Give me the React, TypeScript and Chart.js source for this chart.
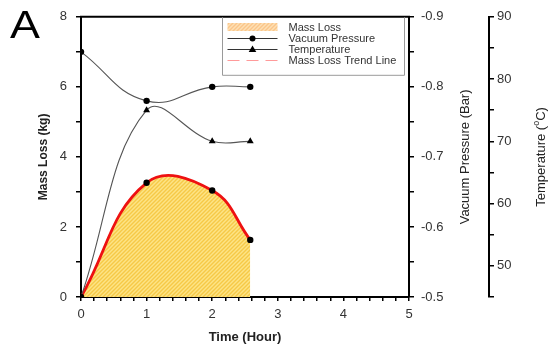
import React, { useEffect, useRef } from 'react';
import { Chart, registerables } from 'chart.js';

Chart.register(...registerables);

const FONT = "'Liberation Sans', Arial, sans-serif";

const times = [0, 1, 2, 2.58];
const massLoss = [0, 3.26, 3.04, 1.63];
const vacuumPressure = [-0.85, -0.78, -0.8, -0.8];
const temperature = [45, 75, 70, 70];

const seriesLabels = ['Mass Loss', 'Vacuum Pressure', 'Temperature', 'Mass Loss Trend Line'];
const xTitle = 'Time (Hour)';
const yTitle = 'Mass Loss (kg)';
const vacTitle = 'Vacuum Pressure (Bar)';
const tempTitle = ['Temperature (', 'o', 'C)'];
const panelLabel = 'A';

function makePattern(base: string, stripe: string): CanvasPattern | string {
  const c = document.createElement('canvas');
  c.width = 4;
  c.height = 4;
  const g = c.getContext('2d');
  if (!g) return base;
  g.fillStyle = base;
  g.fillRect(0, 0, 4, 4);
  g.strokeStyle = stripe;
  g.lineWidth = 1.4;
  g.beginPath();
  g.moveTo(-1, 5);
  g.lineTo(5, -1);
  g.moveTo(-1, 1);
  g.lineTo(1, -1);
  g.moveTo(3, 5);
  g.lineTo(5, 3);
  g.stroke();
  return g.createPattern(c, 'repeat') || base;
}

const pts = (ys: number[]) => times.map((x, i) => ({ x, y: ys[i] }));

export default function App() {
  const ref = useRef<HTMLCanvasElement | null>(null);

  useEffect(() => {
    if (!ref.current) return;
    const fillPattern = makePattern('#fde486', '#f6c947');
    const legendPattern = makePattern('#fde0b5', '#fbc589');

    const decor = {
      id: 'decor',
      afterDraw(chart: any) {
        const { ctx, chartArea } = chart;
        const { left, right, top, bottom } = chartArea;
        ctx.save();
        // top frame line
        ctx.strokeStyle = '#000';
        ctx.lineWidth = 2;
        ctx.beginPath();
        ctx.moveTo(left - 1, top);
        ctx.lineTo(right + 1, top);
        ctx.stroke();

        // legend
        const bx = left + 141.5;
        const by = top + 0.5;
        const bw = 182;
        const bh = 58;
        ctx.fillStyle = '#fff';
        ctx.fillRect(bx, by + 1, bw, bh - 1);
        ctx.strokeStyle = '#9a9a9a';
        ctx.lineWidth = 1;
        ctx.beginPath();
        ctx.moveTo(bx, by);
        ctx.lineTo(bx, by + bh);
        ctx.lineTo(bx + bw, by + bh);
        ctx.lineTo(bx + bw, by);
        ctx.stroke();
        const sx0 = bx + 5;
        const sx1 = bx + 55;
        const tx = bx + 66;
        const rows = [27, 38, 49, 60];
        ctx.font = `11px ${FONT}`;
        ctx.textBaseline = 'middle';
        ctx.textAlign = 'left';
        rows.forEach((ry, i) => {
          const label = chart.data.datasets[i].label;
          if (i === 0) {
            ctx.fillStyle = legendPattern;
            ctx.fillRect(sx0, ry - 4, sx1 - sx0, 8);
          } else if (i === 1 || i === 2) {
            ctx.strokeStyle = '#333';
            ctx.lineWidth = 1;
            ctx.beginPath();
            ctx.moveTo(sx0, ry + 0.5);
            ctx.lineTo(sx1, ry + 0.5);
            ctx.stroke();
            ctx.fillStyle = '#000';
            const cx = (sx0 + sx1) / 2;
            ctx.beginPath();
            if (i === 1) {
              ctx.arc(cx, ry + 0.5, 3, 0, Math.PI * 2);
            } else {
              ctx.moveTo(cx, ry - 3.5);
              ctx.lineTo(cx + 3.8, ry + 3);
              ctx.lineTo(cx - 3.8, ry + 3);
              ctx.closePath();
            }
            ctx.fill();
          } else {
            ctx.strokeStyle = '#ff9a9a';
            ctx.lineWidth = 1.2;
            ctx.setLineDash([12, 7]);
            ctx.beginPath();
            ctx.moveTo(sx0, ry + 0.5);
            ctx.lineTo(sx1, ry + 0.5);
            ctx.stroke();
            ctx.setLineDash([]);
          }
          ctx.fillStyle = '#333';
          ctx.fillText(label, tx, ry + 0.5);
        });

        // right axis titles (reading bottom-to-top)
        const cy = (top + bottom) / 2;
        ctx.fillStyle = '#222';
        ctx.textAlign = 'center';
        ctx.textBaseline = 'middle';
        ctx.save();
        ctx.translate(465, cy);
        ctx.rotate(-Math.PI / 2);
        ctx.font = `13px ${FONT}`;
        ctx.fillText(vacTitle, 0, 0);
        ctx.restore();

        ctx.save();
        ctx.translate(541, cy);
        ctx.rotate(-Math.PI / 2);
        ctx.font = `13px ${FONT}`;
        const w0 = ctx.measureText(tempTitle[0]).width;
        const w2 = ctx.measureText(tempTitle[2]).width;
        ctx.font = `9px ${FONT}`;
        const w1 = ctx.measureText(tempTitle[1]).width;
        const total = w0 + w1 + w2;
        let x = -total / 2;
        ctx.textAlign = 'left';
        ctx.font = `13px ${FONT}`;
        ctx.fillText(tempTitle[0], x, 0);
        x += w0;
        ctx.font = `9px ${FONT}`;
        ctx.fillText(tempTitle[1], x, -4);
        x += w1;
        ctx.font = `13px ${FONT}`;
        ctx.fillText(tempTitle[2], x, 0);
        ctx.restore();

        // panel label
        ctx.fillStyle = '#000';
        ctx.textAlign = 'left';
        ctx.textBaseline = 'alphabetic';
        ctx.font = `39px ${FONT}`;
        ctx.save();
        ctx.translate(10, 38);
        ctx.scale(1.15, 1);
        ctx.fillText(panelLabel, 0, 0);
        ctx.restore();
        ctx.restore();
      },
    };

    const tickFont = { family: FONT, size: 13 };
    const near = (v: number, step: number) => Math.abs(v / step - Math.round(v / step)) < 1e-6;

    const chart = new Chart(ref.current, {
      type: 'line',
      data: {
        datasets: [
          {
            label: seriesLabels[0],
            data: pts(massLoss),
            yAxisID: 'y',
            fill: 'origin',
            backgroundColor: fillPattern as any,
            borderWidth: 0,
            borderColor: 'rgba(0,0,0,0)',
            tension: 0.42,
            pointRadius: 3.2,
            pointBackgroundColor: '#000',
            pointBorderColor: '#000',
            pointBorderWidth: 0,
          },
          {
            label: seriesLabels[1],
            data: pts(vacuumPressure),
            yAxisID: 'yVac',
            fill: false,
            borderColor: '#555',
            borderWidth: 1.1,
            tension: 0.45,
            pointRadius: 3.2,
            pointStyle: 'circle',
            pointBackgroundColor: '#000',
            pointBorderColor: '#000',
            pointBorderWidth: 0,
          },
          {
            label: seriesLabels[2],
            data: pts(temperature),
            yAxisID: 'yTemp',
            fill: false,
            borderColor: '#555',
            borderWidth: 1.1,
            tension: 0.4,
            pointRadius: 4,
            pointStyle: 'triangle',
            pointBackgroundColor: '#000',
            pointBorderColor: '#000',
            pointBorderWidth: 0,
          },
          {
            label: seriesLabels[3],
            data: pts(massLoss),
            yAxisID: 'y',
            fill: false,
            borderColor: '#ee1111',
            borderWidth: 2.8,
            tension: 0.42,
            pointRadius: 0,
          },
        ],
      },
      options: {
        responsive: false,
        animation: false,
        events: [],
        layout: { padding: { top: 14, left: 0, right: 0, bottom: 0 } },
        plugins: {
          legend: { display: false },
          tooltip: { enabled: false },
          filler: { drawTime: 'beforeDatasetsDraw' } as any,
        },
        scales: {
          x: {
            type: 'linear',
            position: 'bottom',
            min: 0,
            max: 5,
            ticks: {
              stepSize: 0.2,
              maxTicksLimit: 100,
              autoSkip: false,
              maxRotation: 0,
              color: '#333',
              font: tickFont,
              padding: 6,
              callback: (v: any) => (near(Number(v), 1) ? String(Math.round(Number(v))) : ''),
            },
            grid: { drawOnChartArea: false, tickLength: 4, color: '#000', lineWidth: 1.5 },
            border: { color: '#000', width: 2 },
            title: {
              display: true,
              text: xTitle,
              color: '#222',
              font: { family: FONT, size: 13, weight: 'bold' },
              padding: { top: 0, bottom: 2 },
            },
            afterFit: (s: any) => {
              s.height = 50;
            },
          },
          y: {
            type: 'linear',
            position: 'left',
            min: 0,
            max: 8,
            ticks: {
              stepSize: 1,
              maxTicksLimit: 100,
              autoSkip: false,
              color: '#333',
              font: tickFont,
              padding: 9,
              callback: (v: any) => (near(Number(v), 2) ? String(Math.round(Number(v))) : ''),
            },
            grid: { drawOnChartArea: false, tickLength: 5, color: '#000', lineWidth: 1.5 },
            border: { color: '#000', width: 2 },
            title: {
              display: true,
              text: yTitle,
              color: '#222',
              font: { family: FONT, size: 12, weight: 'bold' },
              padding: { top: 36, bottom: 0 },
            },
            afterFit: (s: any) => {
              s.width = 81;
            },
          },
          yVac: {
            type: 'linear',
            position: 'right',
            weight: 0,
            reverse: true,
            min: -0.9,
            max: -0.5,
            ticks: {
              stepSize: 0.05,
              maxTicksLimit: 100,
              autoSkip: false,
              color: '#333',
              font: tickFont,
              padding: 7,
              callback: (v: any) => (near(Number(v), 0.1) ? Number(v).toFixed(1) : ''),
            },
            grid: { drawOnChartArea: false, tickLength: 5, color: '#000', lineWidth: 1.5 },
            border: { color: '#000', width: 2 },
            afterFit: (s: any) => {
              s.width = 80;
            },
          },
          yTemp: {
            type: 'linear',
            position: 'right',
            weight: 1,
            min: 45,
            max: 90,
            ticks: {
              stepSize: 5,
              maxTicksLimit: 100,
              autoSkip: false,
              color: '#333',
              font: tickFont,
              padding: 3,
              callback: (v: any) => (near(Number(v), 10) ? String(Math.round(Number(v))) : ''),
            },
            grid: { drawOnChartArea: false, tickLength: 5, color: '#000', lineWidth: 1.5 },
            border: { color: '#000', width: 2 },
            afterFit: (s: any) => {
              s.width = 59;
            },
          },
        },
      } as any,
      plugins: [decor],
    });
    return () => chart.destroy();
  }, []);

  return (
    <div style={{ position: 'absolute', left: 0, top: 0, width: 548, height: 347, background: '#fff' }}>
      <canvas ref={ref} width={548} height={347} style={{ width: 548, height: 347, display: 'block' }} />
    </div>
  );
}
